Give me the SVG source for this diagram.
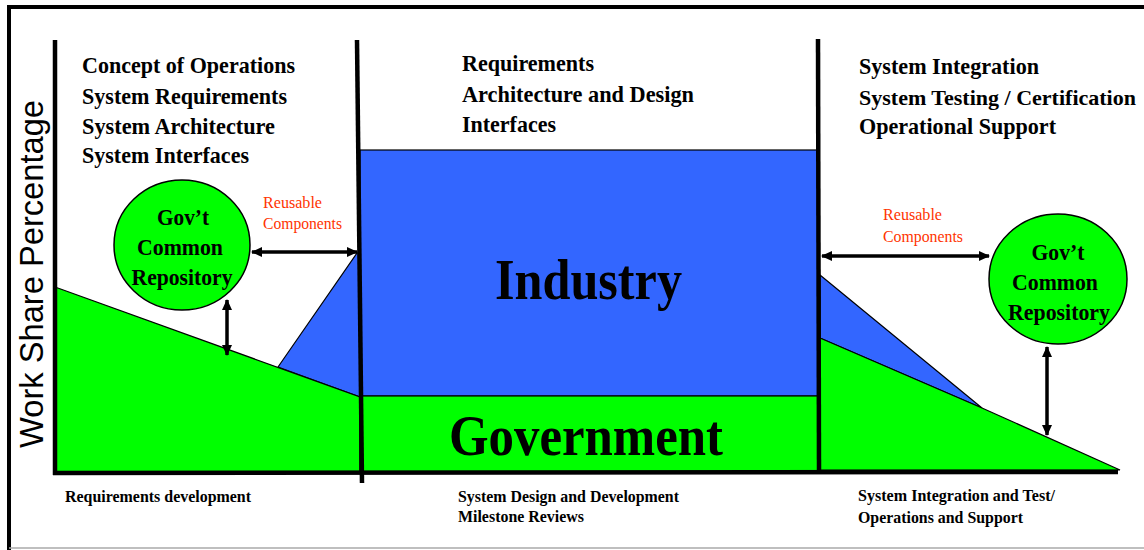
<svg xmlns="http://www.w3.org/2000/svg" width="1144" height="550" viewBox="0 0 1144 550">
<defs>
<marker id="ah" markerUnits="userSpaceOnUse" markerWidth="11" markerHeight="10" refX="10" refY="5" orient="auto-start-reverse" viewBox="0 0 11 10">
<path d="M0,0 L11,5 L0,10 z" fill="#000"/>
</marker>
<style>
.hd{font-family:"Liberation Serif","Times New Roman",serif;font-weight:bold;font-size:24px;fill:#000}
.ft{font-family:"Liberation Serif","Times New Roman",serif;font-weight:bold;font-size:16px;fill:#000}
.ct{font-family:"Liberation Serif","Times New Roman",serif;font-weight:bold;font-size:24px;fill:#000;text-anchor:middle}
.rd{font-family:"Liberation Serif","Times New Roman",serif;font-size:16px;fill:#FF3300}
.big{font-family:"Liberation Serif","Times New Roman",serif;font-weight:bold;fill:#000}
.blue{fill:#3366FF;stroke:#000;stroke-width:1.2}
.green{fill:#00FF00;stroke:#000;stroke-width:1.2}
.axis{stroke:#000;stroke-width:4.5;fill:none}
.arr{stroke:#000;stroke-width:3.5;fill:none;marker-start:url(#ah);marker-end:url(#ah)}
</style>
</defs>
<rect width="1144" height="550" fill="#fff"/>
<!-- frame -->
<path d="M1144,7 H9 V550" stroke="#000" stroke-width="4" fill="none"/>
<line x1="9" y1="548" x2="1144" y2="548" stroke="#aaa" stroke-width="1.5"/>

<g id="areas">
<polygon class="blue" points="278,367 357,253 360,253 360,397"/>
<polygon class="green" points="55,287 360,397 360,473 55,473"/>
<rect id="industry-box" class="blue" x="360" y="150" width="458" height="246" stroke-width="2.5"/>
<rect id="government-box" class="green" x="360" y="396" width="458" height="76" stroke-width="2"/>
<polygon class="blue" points="820,275 982,408 820,338"/>
<polygon class="green" points="820,338 982,408 1120,470 820,470"/>
</g>

<g id="axes">
<line class="axis" x1="55" y1="40" x2="55" y2="475"/>
<line class="axis" x1="53" y1="473" x2="1118" y2="472"/>
<line class="axis" x1="357" y1="40" x2="362" y2="483"/>
<line class="axis" x1="818" y1="39" x2="819" y2="471"/>
</g>

<text x="43" y="448" font-size="34" textLength="348" lengthAdjust="spacingAndGlyphs" transform="rotate(-90 43 448)" style="font-family:'Liberation Sans',Arial,sans-serif;font-weight:normal;fill:#000">Work Share Percentage</text>

<g id="header-left">
<text class="hd" x="82" y="73" textLength="213" lengthAdjust="spacingAndGlyphs">Concept of Operations</text>
<text class="hd" x="82" y="104" textLength="205" lengthAdjust="spacingAndGlyphs">System Requirements</text>
<text class="hd" x="82" y="134" textLength="193" lengthAdjust="spacingAndGlyphs">System Architecture</text>
<text class="hd" x="82" y="163" textLength="167" lengthAdjust="spacingAndGlyphs">System Interfaces</text>
</g>
<g id="header-mid">
<text class="hd" x="462" y="71" textLength="132" lengthAdjust="spacingAndGlyphs">Requirements</text>
<text class="hd" x="462" y="102" textLength="232" lengthAdjust="spacingAndGlyphs">Architecture and Design</text>
<text class="hd" x="462" y="132" textLength="94" lengthAdjust="spacingAndGlyphs">Interfaces</text>
</g>
<g id="header-right">
<text class="hd" x="859" y="74" textLength="180" lengthAdjust="spacingAndGlyphs">System Integration</text>
<text class="hd" x="859" y="105" font-size="22" style="font-size:22px" textLength="277" lengthAdjust="spacingAndGlyphs">System Testing / Certification</text>
<text class="hd" x="859" y="134" textLength="197" lengthAdjust="spacingAndGlyphs">Operational Support</text>
</g>

<g id="industry">
<text class="big" x="495" y="299" font-size="56" textLength="187" lengthAdjust="spacingAndGlyphs">Industry</text>
</g>
<g id="government">
<text class="big" x="449" y="455" font-size="58" textLength="274" lengthAdjust="spacingAndGlyphs">Government</text>
</g>

<g id="repo-left">
<ellipse cx="182" cy="245" rx="68" ry="65" fill="#00FF00" stroke="#000" stroke-width="1.5"/>
<text class="ct" x="183" y="225" textLength="52" lengthAdjust="spacingAndGlyphs">Gov’t</text>
<text class="ct" x="180" y="255" textLength="86" lengthAdjust="spacingAndGlyphs">Common</text>
<text class="ct" x="182" y="285" textLength="101" lengthAdjust="spacingAndGlyphs">Repository</text>
</g>
<g id="repo-right">
<ellipse cx="1058" cy="279" rx="69" ry="65" fill="#00FF00" stroke="#000" stroke-width="1.5"/>
<text class="ct" x="1058" y="260" textLength="53" lengthAdjust="spacingAndGlyphs">Gov’t</text>
<text class="ct" x="1055" y="290" textLength="86" lengthAdjust="spacingAndGlyphs">Common</text>
<text class="ct" x="1059" y="320" textLength="102" lengthAdjust="spacingAndGlyphs">Repository</text>
</g>

<g id="connectors">
<line class="arr" x1="252" y1="252" x2="357" y2="252"/>
<line class="arr" x1="227" y1="300" x2="227" y2="355"/>
<line class="arr" x1="822" y1="256" x2="989" y2="256"/>
<line class="arr" x1="1047" y1="347" x2="1047" y2="435"/>
</g>

<g id="reuse-labels">
<text class="rd" x="263" y="208" textLength="59" lengthAdjust="spacingAndGlyphs">Reusable</text>
<text class="rd" x="263" y="229" textLength="79" lengthAdjust="spacingAndGlyphs">Components</text>
<text class="rd" x="883" y="220" textLength="59" lengthAdjust="spacingAndGlyphs">Reusable</text>
<text class="rd" x="883" y="242" textLength="80" lengthAdjust="spacingAndGlyphs">Components</text>
</g>

<g id="phase-labels">
<text class="ft" x="65" y="502" textLength="186" lengthAdjust="spacingAndGlyphs">Requirements development</text>
<text class="ft" x="458" y="502" textLength="221" lengthAdjust="spacingAndGlyphs">System Design and Development</text>
<text class="ft" x="458" y="522" textLength="126" lengthAdjust="spacingAndGlyphs">Milestone Reviews</text>
<text class="ft" x="858" y="501" textLength="197" lengthAdjust="spacingAndGlyphs">System Integration and Test/</text>
<text class="ft" x="858" y="523" textLength="165" lengthAdjust="spacingAndGlyphs">Operations and Support</text>
</g>
</svg>
